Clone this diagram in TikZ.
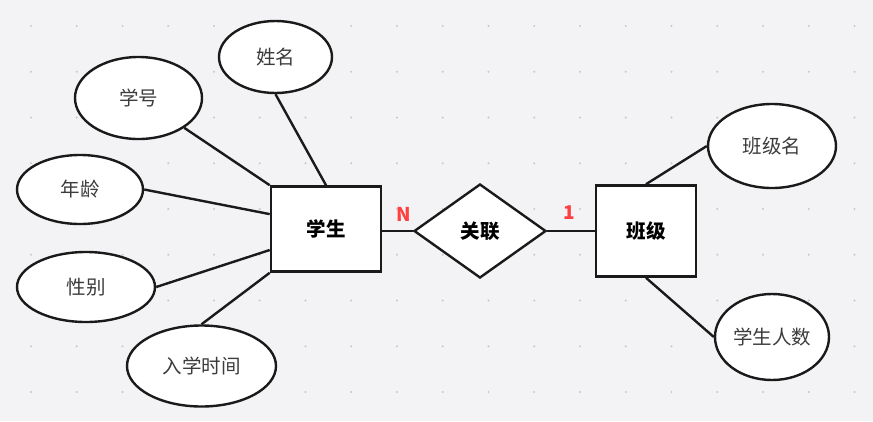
\documentclass[tikz,border=0pt]{standalone}
\usepackage{fontspec}
\setmainfont{Noto Sans CJK SC}
\usetikzlibrary{shapes.geometric,calc}
\definecolor{bgc}{RGB}{243,243,245}
\definecolor{dotc}{RGB}{200,200,204}
\definecolor{linec}{RGB}{26,26,26}
\definecolor{attrtext}{RGB}{60,60,60}
\definecolor{cardred}{RGB}{255,64,64}
\tikzset{
  attr/.style={ellipse,draw=linec,fill=white,line width=2.4pt,inner sep=0pt,text=attrtext,font=\fontsize{19.5}{22}\selectfont},
  entity/.style={rectangle,draw=linec,fill=white,line width=2.6pt,inner sep=0pt,text=black,font=\fontsize{19.5}{22}\selectfont\bfseries},
  rel/.style={diamond,draw=linec,fill=white,line width=2.4pt,inner sep=0pt,text=black,font=\fontsize{19.5}{22}\selectfont\bfseries},
  conn/.style={draw=linec,line width=2.4pt},
  card/.style={text=cardred,font=\fontsize{19}{22}\selectfont\bfseries}
}
\begin{document}
\begin{tikzpicture}[x=1pt,y=-1pt]
\fill[bgc] (0,0) rectangle (873,421);
\useasboundingbox (0,0) rectangle (873,421);
\foreach \i in {0,...,18}{
  \foreach \j in {0,...,8}{
    \fill[dotc] ({31+45.75*\i},{26+45.75*\j}) circle (1.2pt);
  }
}
% entities
\node[entity,minimum width=110pt,minimum height=85pt] (xs) at (326,229) {学生};
\node[entity,minimum width=100pt,minimum height=91pt] (bj) at (646,231) {班级};
\node[rel,minimum width=132pt,minimum height=94pt,aspect=1.4] (gl) at (480,231) {关联};
% attributes
\node[attr,minimum width=113pt,minimum height=72pt] (xm) at (275.5,57) {姓名};
\node[attr,minimum width=127pt,minimum height=82pt] (xh) at (138.5,98) {学号};
\node[attr,minimum width=126pt,minimum height=69pt] (nl) at (80,189.5) {年龄};
\node[attr,minimum width=138pt,minimum height=70pt] (xb) at (86,287) {性别};
\node[attr,minimum width=149pt,minimum height=81pt] (rx) at (201.5,366) {入学时间};
\node[attr,minimum width=128pt,minimum height=84pt] (bm) at (772,146) {班级名};
\node[attr,minimum width=114pt,minimum height=86pt] (rs) at (772,337) {学生人数};
% connectors
\coordinate (xsA) at ($(xs.north west)!0.33!(xs.south west)$);
\coordinate (xsB) at ($(xs.north west)!0.74!(xs.south west)$);
\draw[conn] (xm.south) -- (xs.north);
\draw[conn] (xh.south east) -- (xs.north west);
\draw[conn] (nl.east) -- (xsA);
\draw[conn] (xb.east) -- (xsB);
\draw[conn] (rx.north) -- (xs.south west);
\draw[conn] (xs.east |- gl.west) -- (gl.west);
\draw[conn] (gl.east) -- (bj.west);
\draw[conn] (bj.north) -- (bm.west);
\draw[conn] (bj.south) -- (rs.west);
% cardinalities
\node[card] (cn) at (404,214.5) {N};
\node[card] (c1) at (569.5,212.5) {1};
\end{tikzpicture}
\end{document}
